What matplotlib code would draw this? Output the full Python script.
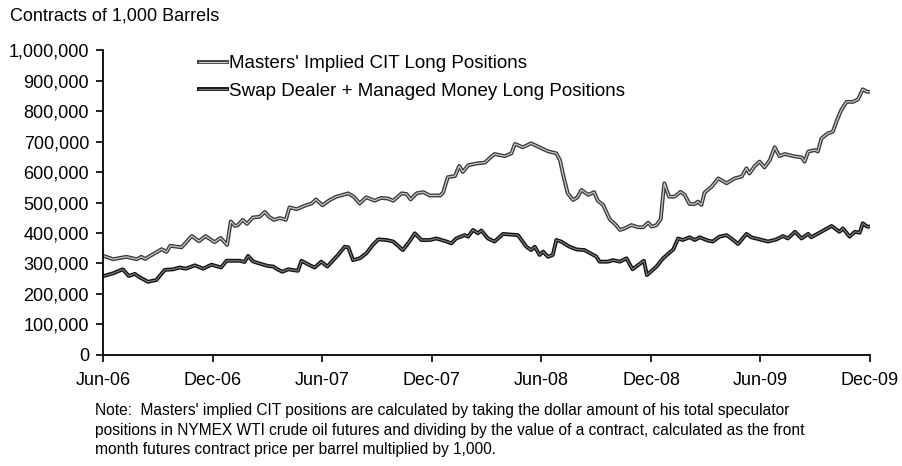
import pandas as pd
import matplotlib
matplotlib.use("Agg")
import matplotlib.pyplot as plt
import matplotlib.dates as mdates
import matplotlib.patheffects as pe
from matplotlib.ticker import FuncFormatter

plt.rcParams["font.family"] = ["Liberation Sans", "DejaVu Sans"]

# Masters' implied CIT long positions (thousand contracts)
fechas_masters = [
    "2006-06-02", "2006-06-18", "2006-07-10", "2006-07-27", "2006-08-04", "2006-08-10",
    "2006-08-24", "2006-09-07", "2006-09-15", "2006-09-21", "2006-10-10", "2006-10-27",
    "2006-11-08", "2006-11-19", "2006-12-04", "2006-12-14", "2006-12-25", "2006-12-31",
    "2007-01-07", "2007-01-12", "2007-01-20", "2007-01-27", "2007-02-06", "2007-02-17",
    "2007-02-26", "2007-03-05", "2007-03-13", "2007-03-23", "2007-04-02", "2007-04-08",
    "2007-04-20", "2007-05-03", "2007-05-15", "2007-05-22", "2007-06-02", "2007-06-14",
    "2007-06-25", "2007-07-15", "2007-07-24", "2007-08-03", "2007-08-14", "2007-08-28",
    "2007-09-08", "2007-09-19", "2007-09-28", "2007-10-12", "2007-10-20", "2007-10-27",
    "2007-11-06", "2007-11-17", "2007-11-28", "2007-12-15", "2007-12-20", "2007-12-28",
    "2008-01-09", "2008-01-16", "2008-01-22", "2008-01-31", "2008-02-14", "2008-02-28",
    "2008-03-07", "2008-03-15", "2008-04-01", "2008-04-12", "2008-04-18", "2008-05-01",
    "2008-05-15", "2008-05-29", "2008-06-12", "2008-06-26", "2008-07-02", "2008-07-08",
    "2008-07-15", "2008-07-24", "2008-07-31", "2008-08-07", "2008-08-18", "2008-08-28",
    "2008-09-03", "2008-09-12", "2008-09-23", "2008-10-03", "2008-10-10", "2008-10-18",
    "2008-10-29", "2008-11-09", "2008-11-18", "2008-11-26", "2008-12-02", "2008-12-10",
    "2008-12-17", "2008-12-23", "2008-12-31", "2009-01-09", "2009-01-19", "2009-01-26",
    "2009-02-03", "2009-02-12", "2009-02-17", "2009-02-23", "2009-02-28", "2009-03-12",
    "2009-03-23", "2009-04-06", "2009-04-19", "2009-05-01", "2009-05-09", "2009-05-14",
    "2009-05-23", "2009-05-31", "2009-06-08", "2009-06-17", "2009-06-25", "2009-07-03",
    "2009-07-12", "2009-07-26", "2009-08-09", "2009-08-14", "2009-08-20", "2009-08-31",
    "2009-09-05", "2009-09-11", "2009-09-22", "2009-09-30", "2009-10-07", "2009-10-14",
    "2009-10-23", "2009-11-03", "2009-11-11", "2009-11-19", "2009-11-26", "2009-12-03",
]
masters = [
    325, 314, 322, 314, 322, 315,
    331, 347, 338, 358, 353, 390,
    373, 390, 370, 384, 361, 438,
    423, 426, 443, 430, 451, 453,
    469, 453, 443, 449, 443, 484,
    478, 489, 497, 510, 491, 508,
    519, 530, 519, 497, 517, 506,
    515, 513, 506, 530, 528, 510,
    530, 534, 523, 523, 532, 583,
    587, 620, 600, 622, 628, 631,
    646, 659, 652, 661, 692, 681,
    694, 681, 668, 661, 639, 585,
    530, 508, 517, 541, 525, 534,
    506, 492, 445, 427, 410, 415,
    426, 419, 419, 434, 421, 426,
    445, 563, 519, 519, 535, 525,
    495, 495, 503, 492, 532, 552,
    579, 563, 579, 585, 612, 595,
    620, 634, 615, 639, 681, 652,
    659, 652, 648, 634, 667, 672,
    667, 710, 727, 732, 770, 803,
    830, 830, 838, 871, 863, 863,
]

# Swap dealer + managed money long positions (thousand contracts)
fechas_swap = [
    "2006-06-02", "2006-06-18", "2006-07-04", "2006-07-14", "2006-07-24", "2006-08-01",
    "2006-08-15", "2006-08-29", "2006-09-12", "2006-09-26", "2006-10-07", "2006-10-17",
    "2006-11-01", "2006-11-15", "2006-11-29", "2006-12-15", "2006-12-24", "2007-01-07",
    "2007-01-15", "2007-01-23", "2007-01-29", "2007-02-06", "2007-02-20", "2007-03-03",
    "2007-03-12", "2007-03-17", "2007-03-27", "2007-04-06", "2007-04-22", "2007-04-28",
    "2007-05-12", "2007-05-20", "2007-05-31", "2007-06-10", "2007-06-28", "2007-07-09",
    "2007-07-15", "2007-07-23", "2007-08-03", "2007-08-14", "2007-08-25", "2007-09-03",
    "2007-09-17", "2007-09-28", "2007-10-14", "2007-10-25", "2007-11-03", "2007-11-14",
    "2007-11-28", "2007-12-09", "2007-12-26", "2008-01-03", "2008-01-11", "2008-01-25",
    "2008-01-31", "2008-02-08", "2008-02-16", "2008-02-22", "2008-03-04", "2008-03-15",
    "2008-03-29", "2008-04-23", "2008-05-07", "2008-05-15", "2008-05-21", "2008-05-29",
    "2008-06-04", "2008-06-12", "2008-06-20", "2008-06-26", "2008-07-04", "2008-07-18",
    "2008-07-30", "2008-08-12", "2008-08-24", "2008-09-01", "2008-09-06", "2008-09-20",
    "2008-09-28", "2008-10-10", "2008-10-21", "2008-10-31", "2008-11-19", "2008-11-24",
    "2008-12-10", "2008-12-21", "2009-01-01", "2009-01-07", "2009-01-15", "2009-01-23",
    "2009-02-03", "2009-02-12", "2009-02-20", "2009-03-06", "2009-03-14", "2009-03-25",
    "2009-04-06", "2009-04-17", "2009-04-25", "2009-05-09", "2009-05-17", "2009-05-31",
    "2009-06-14", "2009-06-28", "2009-07-09", "2009-07-17", "2009-07-29", "2009-08-09",
    "2009-08-20", "2009-08-25", "2009-09-08", "2009-09-28", "2009-10-11", "2009-10-17",
    "2009-10-28", "2009-11-06", "2009-11-14", "2009-11-19", "2009-11-26", "2009-12-03",
]
swap = [
    259, 268, 281, 259, 266, 255,
    240, 246, 279, 281, 287, 283,
    294, 283, 296, 287, 309, 309,
    309, 305, 325, 307, 298, 292,
    290, 283, 273, 281, 276, 309,
    294, 287, 306, 290, 328, 355,
    353, 311, 317, 333, 361, 379,
    377, 372, 344, 372, 399, 377,
    377, 382, 372, 366, 382, 393,
    388, 410, 399, 408, 382, 372,
    397, 393, 355, 344, 355, 328,
    339, 322, 328, 377, 372, 355,
    346, 344, 331, 322, 306, 306,
    311, 306, 317, 281, 309, 262,
    290, 317, 336, 346, 382, 377,
    386, 377, 386, 375, 372, 388,
    393, 377, 364, 397, 386, 379,
    372, 379, 390, 382, 404, 382,
    397, 386, 401, 423, 404, 415,
    388, 404, 401, 432, 421, 421,
]

etiquetas = {
    "masters": "Masters' Implied CIT Long Positions",
    "swap": "Swap Dealer + Managed Money Long Positions",
}
nota = ("Note:  Masters' implied CIT positions are calculated by taking the dollar amount of his total speculator\n"
        "positions in NYMEX WTI crude oil futures and dividing by the value of a contract, calculated as the front\n"
        "month futures contract price per barrel multiplied by 1,000.")

fig = plt.figure(figsize=(9.02, 4.66), dpi=100)
ax = fig.add_axes([0.1142, 0.2382, 0.8503, 0.6545])

x_m = pd.to_datetime(fechas_masters)
x_s = pd.to_datetime(fechas_swap)
y_m = [v * 1000 for v in masters]
y_s = [v * 1000 for v in swap]

# linea "doble" como en el original escaneado
ax.plot(x_m, y_m, color="#c8c8c8", lw=0.9, label=etiquetas["masters"],
        path_effects=[pe.Stroke(linewidth=2.8, foreground="#3a3a3a"), pe.Normal()])
ax.plot(x_s, y_s, color="#7a7a7a", lw=0.9, label=etiquetas["swap"],
        path_effects=[pe.Stroke(linewidth=2.8, foreground="#111111"), pe.Normal()])

ax.set_ylim(0, 1000000)
ax.set_xlim(pd.Timestamp("2006-06-01"), pd.Timestamp("2009-12-01"))
ax.set_yticks(range(0, 1000001, 100000))
ax.yaxis.set_major_formatter(FuncFormatter(lambda v, p: f"{v:,.0f}"))
ax.xaxis.set_major_locator(mdates.MonthLocator(bymonth=[6, 12], bymonthday=1))
ax.xaxis.set_major_formatter(mdates.DateFormatter("%b-%y"))

for lado in ["top", "right"]:
    ax.spines[lado].set_visible(False)
for lado in ["left", "bottom"]:
    ax.spines[lado].set_linewidth(1.3)
    ax.spines[lado].set_color("black")
ax.tick_params(axis="both", labelsize=13, length=5, width=1.2, direction="out")
ax.tick_params(axis="x", pad=7)
ax.tick_params(axis="y", pad=5)

ax.legend(loc="upper left", bbox_to_anchor=(0.115, 1.008), frameon=False, fontsize=13.5,
          handlelength=1.5, handletextpad=0.1, labelspacing=0.55, borderaxespad=0)

fig.text(0.011, 1 - 16 / 466, "Contracts of 1,000 Barrels", fontsize=13, va="center")
fig.text(0.105, 1 - 430 / 466, nota, fontsize=11.2, va="center", linespacing=1.4)

fig.savefig("out.png", dpi=100)
